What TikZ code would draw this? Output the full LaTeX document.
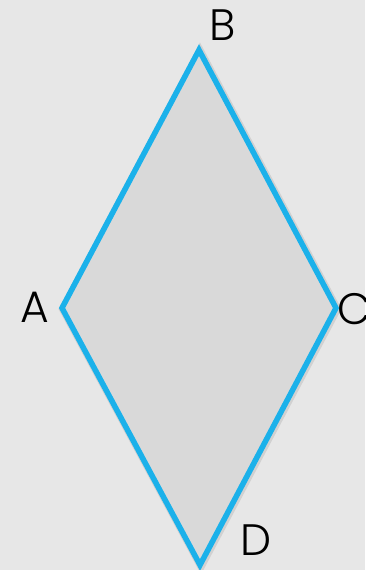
\documentclass[tikz,border=0pt]{standalone}
\usepackage{fontspec}
\setmainfont{Poppins Light}
\definecolor{bgc}{HTML}{E7E7E7}
\definecolor{fillc}{HTML}{D9D9D9}
\definecolor{edgec}{HTML}{1BB1EA}
\definecolor{shadowc}{HTML}{A8A8A8}
\begin{document}
\begin{tikzpicture}[x=1pt,y=1pt,
  lbl/.style={font=\fontsize{44}{44}\selectfont, inner sep=0pt, text=black}]
\fill[bgc] (0,0) rectangle (365,570);
\useasboundingbox (0,0) rectangle (365,570);
\coordinate (B) at (199,520);
\coordinate (A) at (62,262);
\coordinate (C) at (336,262);
\coordinate (D) at (200,5);
\draw[shadowc, line width=8pt, opacity=0.35, line join=miter] ([xshift=1pt,yshift=-1pt]B) -- ([xshift=1pt,yshift=-1pt]C) -- ([xshift=1pt,yshift=-1pt]D) -- ([xshift=1pt,yshift=-1pt]A) -- cycle;
\filldraw[fill=fillc, draw=edgec, line width=5.5pt, line join=miter] (B) -- (C) -- (D) -- (A) -- cycle;
\node[lbl] (lB) at (223,545) {B};
\node[lbl] (lA) at (35,263) {A};
\node[lbl, anchor=west] (lC) at (337,261) {C};
\node[lbl] (lD) at (256,30) {D};
\end{tikzpicture}
\end{document}
